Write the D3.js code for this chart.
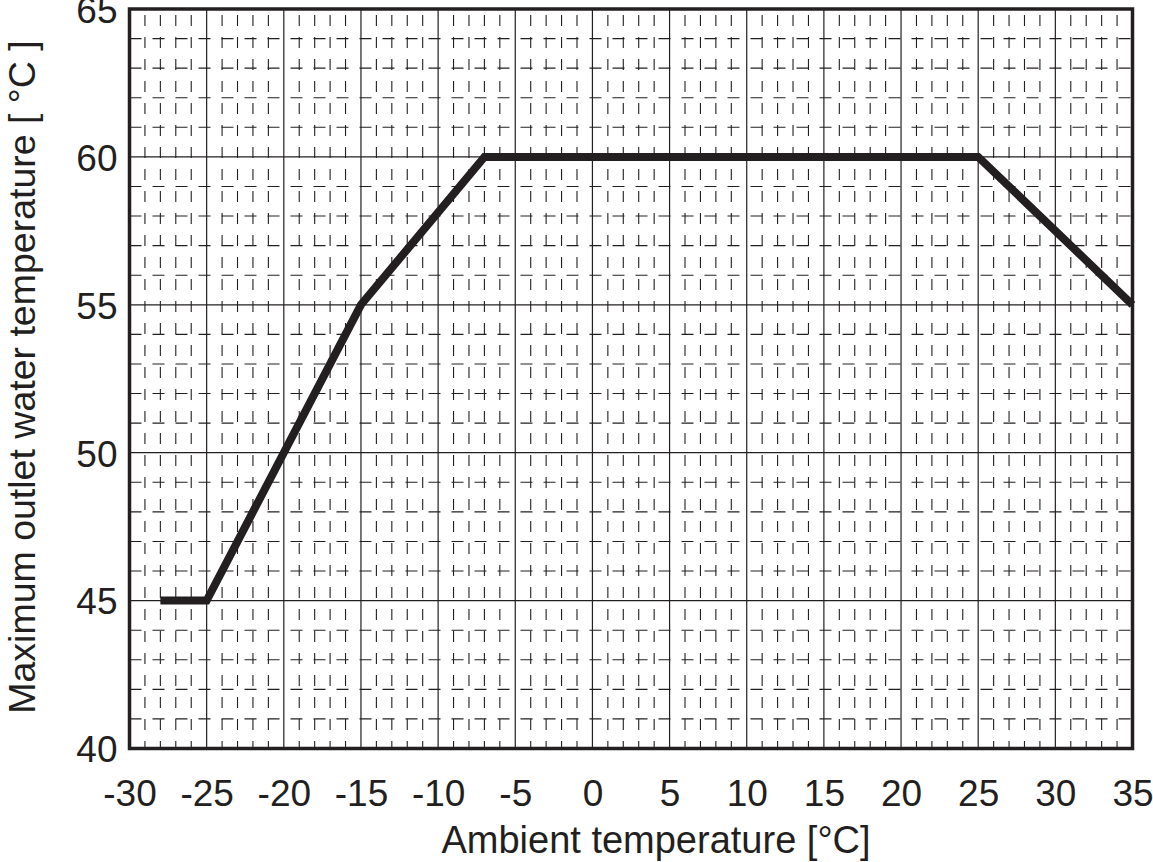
<!DOCTYPE html>
<html>
<head>
<meta charset="utf-8">
<script src="https://cdn.jsdelivr.net/npm/d3@7"></script>
<style>
  html, body { margin: 0; padding: 0; background: #fff; }
  svg { display: block; }
  text { font-family: "Liberation Sans", Arial, sans-serif; fill: #231f20; }
</style>
</head>
<body>
<svg id="chart" width="1153" height="862"></svg>
<script>
// Data
const ambientTemp = [-28, -25, -15, -7, 25, 35];
const maxOutletTemp = [45, 45, 55, 60, 60, 55];
const xTicks = [-30, -25, -20, -15, -10, -5, 0, 5, 10, 15, 20, 25, 30, 35];
const yTicks = [40, 45, 50, 55, 60, 65];
const xLabel = "Ambient temperature [°C]";
const yLabel = "Maximum outlet water temperature [ °C ]";

const svg = d3.select("#chart");
const x = d3.scaleLinear().domain([-30, 35]).range([129.5, 1132.5]);
const y = d3.scaleLinear().domain([40, 65]).range([748.5, 9]);
const ink = "#231f20";
const fmt = d => String(d); // hyphen-minus as in the reference

const grid = svg.append("g");
// minor vertical lines
const xMinor = d3.range(-30, 36, 1).filter(v => v % 5 !== 0);
grid.selectAll(".vmin").data(xMinor).enter().append("line")
  .attr("x1", d => x(d)).attr("x2", d => x(d))
  .attr("y1", y(65)).attr("y2", y(40))
  .attr("stroke", ink).attr("stroke-width", 1.1)
  .attr("stroke-dasharray", "11,11").attr("stroke-dashoffset", -6);
// minor horizontal lines
const yMinor = d3.range(40, 66, 1).filter(v => v % 5 !== 0);
grid.selectAll(".hmin").data(yMinor).enter().append("line")
  .attr("x1", x(-30)).attr("x2", x(35))
  .attr("y1", d => y(d)).attr("y2", d => y(d))
  .attr("stroke", ink).attr("stroke-width", 1.1)
  .attr("stroke-dasharray", "12,11").attr("stroke-dashoffset", 0);
// major lines
grid.selectAll(".vmaj").data(xTicks).enter().append("line")
  .attr("x1", d => x(d)).attr("x2", d => x(d))
  .attr("y1", y(65)).attr("y2", y(40))
  .attr("stroke", ink).attr("stroke-width", 1.2);
grid.selectAll(".hmaj").data(yTicks).enter().append("line")
  .attr("x1", x(-30)).attr("x2", x(35))
  .attr("y1", d => y(d)).attr("y2", d => y(d))
  .attr("stroke", ink).attr("stroke-width", 1.2);

// frame
svg.append("rect")
  .attr("x", x(-30)).attr("y", y(65))
  .attr("width", x(35) - x(-30)).attr("height", y(40) - y(65))
  .attr("fill", "none").attr("stroke", ink).attr("stroke-width", 3.5);

// data line
const line = d3.line().x((d, i) => x(ambientTemp[i])).y(d => y(d));
svg.append("path")
  .attr("d", line(maxOutletTemp))
  .attr("fill", "none").attr("stroke", ink)
  .attr("stroke-width", 8).attr("stroke-linejoin", "miter");

// axes
const xAxis = d3.axisBottom(x).tickValues(xTicks).tickSize(0).tickPadding(0)
  .tickFormat(fmt);
const gx = svg.append("g").attr("transform", `translate(0, ${y(40)})`).call(xAxis);
gx.select(".domain").remove();
gx.selectAll("text").attr("dy", null).attr("y", 57)
  .style("font-family", '"Liberation Sans", Arial, sans-serif')
  .style("font-size", "37px").attr("fill", ink);

const yAxis = d3.axisLeft(y).tickValues(yTicks).tickSize(0).tickPadding(0)
  .tickFormat(fmt);
const gy = svg.append("g").attr("transform", `translate(${x(-30)}, 0)`).call(yAxis);
gy.select(".domain").remove();
gy.selectAll("text").attr("x", -12).attr("dy", "0.36em")
  .style("font-family", '"Liberation Sans", Arial, sans-serif')
  .style("font-size", "37px").attr("fill", ink);

// axis titles
svg.append("text").attr("x", 656).attr("y", 853)
  .attr("text-anchor", "middle").style("font-size", "38px").text(xLabel);
svg.append("text")
  .attr("transform", `translate(35, 377) rotate(-90)`)
  .attr("text-anchor", "middle").style("font-size", "37.5px").text(yLabel);
</script>
</body>
</html>
